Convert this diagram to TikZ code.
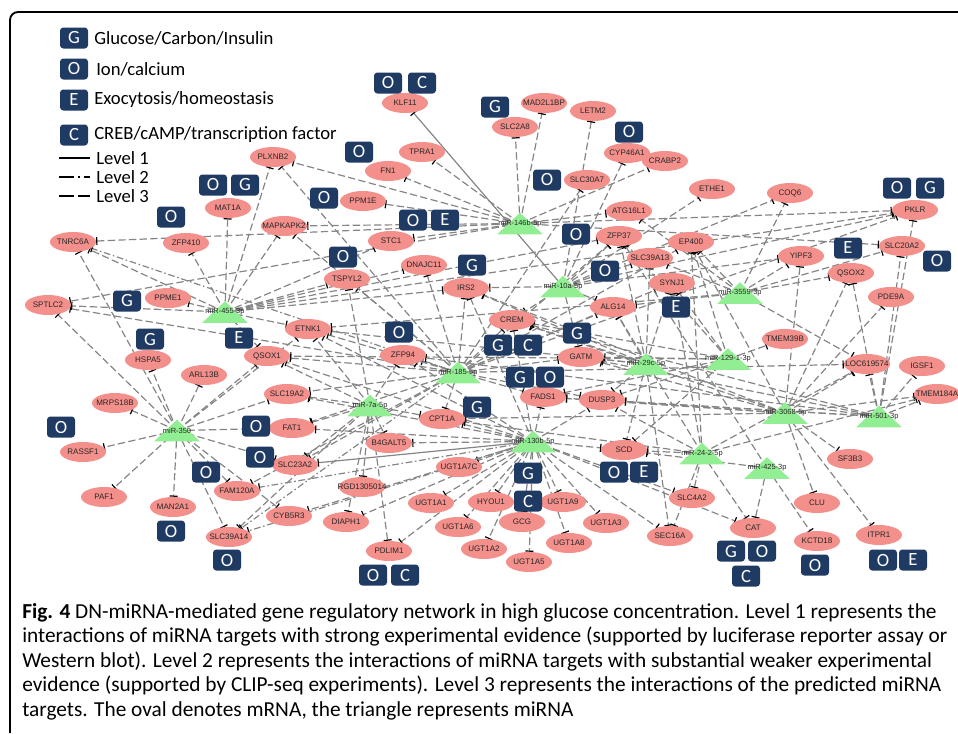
\documentclass[tikz,border=0pt]{standalone}
\usepackage{fontspec}
\setmainfont{Carlito}
\newfontfamily\genefont{Liberation Sans}
\usetikzlibrary{arrows.meta,shapes.geometric,backgrounds}
\definecolor{netgene}{HTML}{F4908C}
\definecolor{netmir}{HTML}{92EE92}
\definecolor{nettag}{HTML}{1F3A63}
\definecolor{netedge}{HTML}{858585}
\newcommand{\cramp}[1]{\hbox to 0pt{\hss#1\hss}}
\tikzset{
  gene/.style={ellipse, fill=netgene, inner sep=0pt, minimum width=34.5pt, minimum height=15pt, font=\genefont\fontsize{6}{7}\selectfont, text=black!85},
  mir/.style={rectangle, inner sep=0pt, minimum width=33.75pt, minimum height=15.75pt, font=\genefont\fontsize{5.6}{6.5}\selectfont, text=black!85},
  badge/.style={fill=nettag, rounded corners=2.5pt, minimum width=21pt, minimum height=15.75pt, inner sep=0pt, text=white, font=\fontsize{14}{16}\selectfont},
  legtxt/.style={anchor=west, inner sep=0pt, font=\fontsize{14}{16}\selectfont},
  lvone/.style={solid},
  lvtwo/.style={dash pattern=on 5pt off 2pt on 1.2pt off 2pt},
  lvthree/.style={dash pattern=on 5.5pt off 2.5pt},
  inh/.style={draw=netedge, line width=0.9pt, -{Bar[width=6pt, line width=0.9pt, color=black]}},
}

\begin{document}
\begin{tikzpicture}[x=0.75pt, y=-0.75pt]
  \useasboundingbox (0,0) rectangle (958,733);
  \draw[line width=1.4pt, rounded corners=6pt] (10,733) -- (10,12) -- (958,12);

  \foreach \t/\y [count=\i] in {G/38, O/69, E/100, C/135} \node[badge] (key\i) at (74,\y) {\t};
  \node[legtxt] (keytxt1) at (94,38) {Glucose/Carbon/Insulin};
  \node[legtxt] (keytxt2) at (96,69) {Ion/calcium};
  \node[legtxt] (keytxt3) at (94,100) {Exocytosis/homeostasis};
  \node[legtxt] (keytxt4) at (94,135) {CREB/cAMP/transcription factor};
  \foreach \y [count=\i] in {158,177,196} {
    \coordinate (lva\i) at (59,\y); \coordinate (lvb\i) at (90,\y);
    \node[legtxt] (lvtxt\i) at (96,\y) {Level \i};
  }
  \draw[line width=1.5pt] (lva1) -- (lvb1);
  \draw[line width=1.5pt, dash pattern=on 11pt off 3pt on 1.5pt off 3pt] (lva2) -- (lvb2);
  \draw[line width=1.5pt, dash pattern=on 11pt off 3.5pt] (lva3) -- (lvb3);

  \foreach \n/\x/\y in {KLF11/405/103, MAD2L1BP/544/103, LETM2/593/111, SLC2A8/515/127,
    CYP46A1/627/153, CRABP2/665/161, TPRA1/422/152, FN1/388/171, SLC30A7/587/180,
    PPM1E/363/201, PLXNB2/273/157, ETHE1/712/189, COQ6/790/193, PKLR/915/210,
    ATG16L1/629/211, MAT1A/228/208, MAPKAPK2/284/226, ZFP37/619/236, STC1/391/241,
    TNRC6A/73/242, ZFP410/186/243, EP400/691/242, SLC20A2/902/246, YIPF3/801/256,
    SLC39A13/650/258, DNAJC11/424/265, QSOX2/851/273, TSPYL2/347/279, SYNJ1/672/283,
    IRS2/466/288, PDE9A/891/297, PPME1/168/298, SPTLC2/48/305, ALG14/613/307,
    CREM/512/320, ETNK1/308/329, TMEM39B/785/339, QSOX1/267/356, ZFP94/403/355,
    GATM/581/357, HSPA5/148/360, LOC619574/867/364, IGSF1/922/366, ARL13B/204/375,
    SLC19A2/287/394, TMEM184A/937/394, FADS1/543/397, DUSP3/602/400, MRPS18B/115/403,
    CPT1A/442/419, FAT1/292/428, B4GALT5/389/443, SCD/624/450, RASSF1/83/452,
    SF3B3/850/459, SLC23A2/295/465, UGT1A7C/459/467, RGD1305014/362/487,
    FAM120A/237/491, PAF1/104/497, SLC4A2/692/498, UGT1A1/431/503, HYOU1/491/502,
    UGT1A9/563/502, CLU/817/503, MAN2A1/173/507, CYB5R3/289/516, DIAPH1/346/522,
    GCG/522/522, UGT1A3/606/523, UGT1A6/458/527, CAT/753/528, SEC16A/670/536,
    SLC39A14/229/537, ITPR1/879/535, KCTD18/817/541, UGT1A8/569/543, UGT1A2/484/549,
    PDLIM1/389/551, UGT1A5/529/562}
    \node[gene] (\n) at (\x,\y) {\cramp{\n}};

  \foreach \n/\x/\y/\l in {m146/520/223.5/miR-146b-5p, m10a/563/286.5/miR-10a-5p,
    m455/225/312/miR-455-3p, m185/458/372.5/miR-185-5p, m7a/370/405.5/miR-7a-5p,
    m350/177/430.5/miR-350, m130/533/441.5/miR-130b-5p, m29c/646/364/miR-29c-5p,
    m129/728/359/miR-129-1-3p, m3559/740/293/miR-3559-3p, m3068/785/413/miR-3068-5p,
    m501/879/416.5/miR-501-3p, m24/702/453.5/miR-24-2-5p, m425/767/468/miR-425-3p}
    \node[mir] (\n) at (\x,\y) {\cramp{\l}};

  \foreach \t/\x/\y [count=\i] in {O/388/83, C/422/83, G/495/107, O/629/132, O/359/152,
    O/547/180, O/213/185, G/245/185, O/324/198, O/171/217, O/413/220, E/445/220,
    O/576/234, O/343/257, G/472/265, O/605/271, G/127/301, G/150/339, E/239/338,
    O/399/332, G/498/345, C/528/345, G/577/333, G/520/377, O/550/377, G/477/407,
    O/61/427, O/256/426, O/260/457, O/206/472, G/528/473, C/528/501, O/614/472,
    E/644/472, O/171/531, O/227/560, O/373/575, C/405/575, G/731/551, O/762/551,
    C/746/576, O/815/565, O/883/560, E/913/560, O/897/188, G/930/188, E/848/248,
    O/937/261, E/676/307}
    \node[badge] (bdg\i) at (\x,\y) {\t};

  \node[anchor=north west, inner sep=0pt, align=left, font=\fontsize{16}{18.4}\selectfont] (caption) at (22,603)
    {\textbf{Fig. 4} DN-miRNA-mediated gene regulatory network in high glucose concentration. Level 1 represents the\\
     interactions of miRNA targets with strong experimental evidence (supported by luciferase reporter assay or\\
     Western blot). Level 2 represents the interactions of miRNA targets with substantial weaker experimental\\
     evidence (supported by CLIP-seq experiments). Level 3 represents the interactions of the predicted miRNA\\
     targets. The oval denotes mRNA, the triangle represents miRNA};

  \begin{scope}[on background layer]
    \foreach \g in {SLC2A8,MAD2L1BP,TPRA1,FN1,PPM1E,STC1,PLXNB2,MAPKAPK2,ATG16L1,PKLR,TNRC6A,SPTLC2,CRABP2,SLC20A2}
      \draw[inh,lvthree] (m146.center) -- (\g);
    \foreach \g in {LETM2,CYP46A1,ZFP37,COQ6,PKLR,ALG14,IRS2,CREM,SLC39A13,YIPF3,GATM,ETHE1}
      \draw[inh,lvthree] (m10a.center) -- (\g);
    \foreach \g in {MAT1A,ZFP410,TNRC6A,SPTLC2,PPME1,MAPKAPK2,PLXNB2,ETNK1,QSOX1,TSPYL2,STC1,DNAJC11,PKLR,IRS2,ZFP37}
      \draw[inh,lvthree] (m455.center) -- (\g);
    \foreach \g in {SLC30A7,IRS2,CREM,ZFP94,DNAJC11,TSPYL2,MAPKAPK2,PLXNB2,QSOX1,ETNK1,CPT1A,SLC23A2,FAT1,SLC19A2,GATM,FADS1,DUSP3,EP400,SPTLC2,ALG14,LOC619574,FAM120A,ZFP37,SYNJ1,PKLR}
      \draw[inh,lvthree] (m185.center) -- (\g);
    \foreach \g in {B4GALT5,RGD1305014,PDLIM1,SLC23A2,QSOX1,ETNK1,CPT1A,SLC39A14,ZFP94,TSPYL2,FAT1,SLC19A2,DIAPH1}
      \draw[inh,lvthree] (m7a.center) -- (\g);
    \foreach \g in {HSPA5,ARL13B,MRPS18B,RASSF1,PAF1,MAN2A1,SLC39A14,FAM120A,SLC23A2,QSOX1,SLC19A2,FAT1,SPTLC2,TNRC6A,CYB5R3,ETNK1}
      \draw[inh,lvthree] (m350.center) -- (\g);
    \foreach \g in {CPT1A,FADS1,UGT1A7C,UGT1A1,HYOU1,UGT1A9,UGT1A6,GCG,UGT1A3,UGT1A2,UGT1A8,UGT1A5,SCD,DIAPH1,PDLIM1,CYB5R3,B4GALT5,IRS2,CREM,SEC16A,SLC4A2,CAT,DUSP3,FAT1,SLC19A2,QSOX1,ETNK1,ZFP94}
      \draw[inh,lvthree] (m130.center) -- (\g);
    \foreach \g in {SYNJ1,ALG14,ZFP37,GATM,DUSP3,SCD,SEC16A,CREM,SLC39A13,IRS2,ETNK1}
      \draw[inh,lvthree] (m29c.center) -- (\g);
    \foreach \g in {TMEM39B,EP400,SYNJ1,GATM,DUSP3,CREM,SCD,ZFP37,QSOX1,FADS1}
      \draw[inh,lvthree] (m129.center) -- (\g);
    \foreach \g in {COQ6,EP400,LOC619574,SLC39A13,ALG14,ATG16L1,SLC20A2,QSOX2,YIPF3,ETNK1}
      \draw[inh,lvthree] (m3559.center) -- (\g);
    \foreach \g in {CLU,SF3B3,ITPR1,LOC619574,PDE9A,TMEM184A,QSOX2,YIPF3,EP400,CREM,GATM,FADS1,DUSP3,IRS2,CPT1A}
      \draw[inh,lvthree] (m3068.center) -- (\g);
    \foreach \g in {TMEM184A,IGSF1,LOC619574,SLC20A2,PKLR,QSOX2,CREM,GATM,FADS1,DUSP3,ZFP94}
      \draw[inh,lvthree] (m501.center) -- (\g);
    \foreach \g in {SEC16A,CAT,SCD,DUSP3,ALG14,SYNJ1,EP400,LOC619574,TMEM184A,CPT1A}
      \draw[inh,lvthree] (m24.center) -- (\g);
    \foreach \g in {CAT,KCTD18,SCD,ZFP37}
      \draw[inh,lvthree] (m425.center) -- (\g);
    \draw[inh,lvtwo] (m185.center) -- (TNRC6A);
    \draw[inh,lvtwo] (m185.center) -- (SLC39A14);
    \draw[inh,lvtwo] (m130.center) -- (SLC39A14);
    \draw[inh,lvtwo] (m130.center) -- (FAM120A);
    \draw[inh,lvtwo] (m24.center) -- (SLC4A2);
    \draw[inh,lvone] (m10a.center) -- (KLF11);
    \draw[inh,lvone] (m130.center) -- (SLC23A2);
    \foreach \m in {m146,m10a,m455,m185,m7a,m350,m130,m29c,m129,m3559,m3068,m501,m24,m425}
      \fill[netmir] (\m.south west) -- (\m.north) -- (\m.south east) -- cycle;
  \end{scope}
\end{tikzpicture}
\end{document}
